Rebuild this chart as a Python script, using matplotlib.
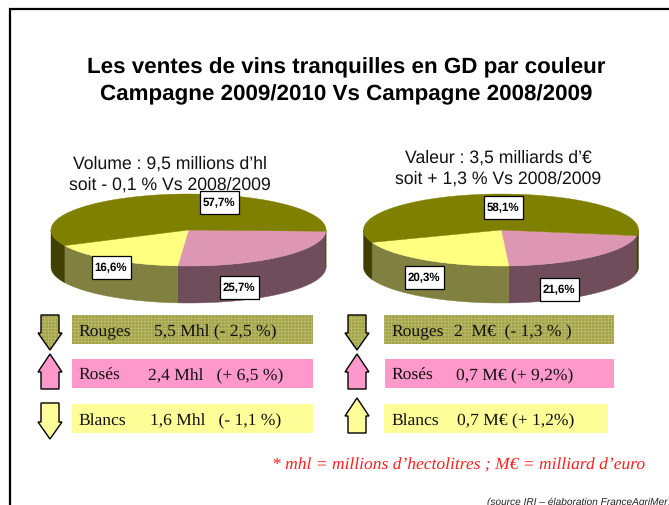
"""Ventes de vins tranquilles en GD: two pseudo 3D pies with coloured summary bars."""

import numpy as np
import matplotlib
matplotlib.use("Agg")
import matplotlib.pyplot as plt
from matplotlib.patches import Polygon, Rectangle

# slice order: roses, blancs, rouges (clockwise from the right)
volume_shares = [25.7, 16.6, 57.7]
valeur_shares = [21.6, 20.3, 58.1]

volume_title = ["Volume : 9,5 millions d\u2019hl", "soit - 0,1 % Vs 2008/2009"]
valeur_title = ["Valeur : 3,5 milliards d\u2019\u20ac", "soit + 1,3 % Vs 2008/2009"]

bar_names = ["Rouges", "Ros\u00e9s", "Blancs"]
volume_details = ["5,5 Mhl (- 2,5 %)", "2,4 Mhl   (+ 6,5 %)", "1,6 Mhl   (- 1,1 %)"]
valeur_details = ["2  M\u20ac  (- 1,3 % )", "0,7 M\u20ac (+ 9,2%)", "0,7 M\u20ac (+ 1,2%)"]
volume_trend = [-1, 1, -1]
valeur_trend = [-1, 1, 1]

TOP_COLORS = ["#DE97B2", "#FFFF80", "#808000"]
SIDE_COLORS = ["#6F4D5B", "#808040", "#404000"]
BAR_COLORS = ["#A3A348", "#FF99CC", "#FFFF99"]
SERIF = "Liberation Serif"
SANS = "Liberation Sans"

RX, RY, DEPTH = 137.5, 36, 37


def ellipse_points(cx, cy, start, end, dy=0):
    t = np.radians(np.linspace(start, end, 120))
    return np.column_stack([cx + RX * np.cos(t), cy + dy - RY * np.sin(t)])


def draw_pie(ax, cx, cy, shares, start_angle, label_pos):
    angles = start_angle - np.cumsum([0] + shares) * 3.6
    spans = list(zip(angles[:-1], angles[1:]))

    # front wall, only the lower half of the ellipse shows
    for (a0, a1), side in zip(spans, SIDE_COLORS):
        for lo, hi in [(a0, a1), (a0 + 360, a1 + 360)]:
            hi_c, lo_c = min(lo, 0), max(hi, -180)
            if hi_c <= lo_c:
                continue
            top = ellipse_points(cx, cy, hi_c, lo_c)
            bottom = ellipse_points(cx, cy, lo_c, hi_c, DEPTH)
            ax.add_patch(Polygon(np.vstack([top, bottom]), fc=side, ec=side, lw=0.3))

    for (a0, a1), color in zip(spans, TOP_COLORS):
        pts = np.vstack([[cx, cy], ellipse_points(cx, cy, a0, a1)])
        ax.add_patch(Polygon(pts, fc=color, ec=color, lw=0.3))

    for share, (x, y) in zip(shares, label_pos):
        ax.add_patch(Rectangle((x - 19.5, y - 11.5), 39, 23, fc="white", ec="black", lw=0.9, zorder=4))
        ax.text(x, y, f"{share:.1f}%".replace(".", ","), family=SANS, weight="bold",
                fontsize=8.3, ha="center", va="center", zorder=5)


def draw_arrow(ax, cx, y0, y1, trend, color, hatched):
    # y0/y1 top and bottom of the arrow
    head = 18 if trend > 0 else 17
    if trend < 0:
        pts = [(cx - 9, y0), (cx + 9, y0), (cx + 9, y1 - head), (cx + 12, y1 - head),
               (cx, y1), (cx - 12, y1 - head), (cx - 9, y1 - head)]
    else:
        pts = [(cx, y0), (cx + 12, y0 + head), (cx + 9, y0 + head), (cx + 9, y1),
               (cx - 9, y1), (cx - 9, y0 + head), (cx - 12, y0 + head)]
    if hatched:
        ax.add_patch(Polygon(pts, fc=color, ec="#BCBC70", hatch="+++++", lw=0))
    else:
        ax.add_patch(Polygon(pts, fc=color, lw=0))
    ax.add_patch(Polygon(pts, fc="none", ec="black", lw=1.0))


def draw_bar(ax, x0, x1, y0, color, hatched):
    if hatched:
        ax.add_patch(Rectangle((x0, y0), x1 - x0, 29, fc=color, ec="#BCBC70", hatch="+++++", lw=0))
    else:
        ax.add_patch(Rectangle((x0, y0), x1 - x0, 29, fc=color, lw=0))


plt.rcParams["hatch.linewidth"] = 0.5
plt.rcParams["text.hinting"] = "no_hinting"
plt.rcParams["text.hinting_factor"] = 8
fig = plt.figure(figsize=(6.69, 5.06), dpi=100)
ax = fig.add_axes([0, 0, 1, 1])
ax.set_xlim(0, 669)
ax.set_ylim(506, 0)
ax.axis("off")

# frame, open on the right and at the bottom
ax.plot([10, 10, 669], [506, 9.5, 9.5], color="black", lw=1.6, solid_joinstyle="miter")

for y, line in zip([68, 95], ["Les ventes de vins tranquilles en GD par couleur",
                              "Campagne 2009/2010 Vs Campagne 2008/2009"]):
    ax.text(346, y, line, family=SANS, weight="bold", fontsize=16.1, ha="center", va="center")

draw_pie(ax, 188.5, 231, volume_shares, -2, [(239, 288.5), (111, 268.5), (219, 203)])
draw_pie(ax, 501, 231, valeur_shares, -9, [(559, 290), (424, 278.5), (503, 208)])

for y, line in zip([164, 185], volume_title):
    ax.text(169.5, y, line, family=SANS, fontsize=12.7, ha="center", va="center", color="#111111")
for y, line in zip([158, 179], valeur_title):
    ax.text(498.5, y, line, family=SANS, fontsize=12.7, ha="center", va="center", color="#111111")

bar_tops = [316, 360, 405]
volume_arrows = [(316, 351), (355, 390), (404, 440)]
valeur_arrows = [(316, 351), (355, 390), (399, 434)]
volume_x = [154, 148, 150]
valeur_x = [454, 456, 457]
valeur_ends = [(384, 614), (385, 614), (384, 608)]

for i, name in enumerate(bar_names):
    hatched = i == 0
    draw_bar(ax, 72, 313, bar_tops[i], BAR_COLORS[i], hatched)
    draw_bar(ax, *valeur_ends[i], bar_tops[i], BAR_COLORS[i], hatched)
    draw_arrow(ax, 50, *volume_arrows[i], volume_trend[i], BAR_COLORS[i], hatched)
    draw_arrow(ax, 357, *valeur_arrows[i], valeur_trend[i], BAR_COLORS[i], hatched)

    # names sit a pixel low next to the bracketed text, nudge them up
    y = bar_tops[i] + 20.8
    ax.text(78.5, y - 1, name, family=SERIF, fontsize=12.6, va="baseline", color="#111111")
    ax.text(volume_x[i], y, volume_details[i], family=SERIF, fontsize=12.6, va="baseline", color="#111111")
    ax.text(391.5, y - 1, name, family=SERIF, fontsize=12.6, va="baseline", color="#111111")
    ax.text(valeur_x[i], y, valeur_details[i], family=SERIF, fontsize=12.6, va="baseline", color="#111111")

ax.text(645, 465, "* mhl = millions d\u2019hectolitres ; M\u20ac = milliard d\u2019euro", family=SERIF,
        style="italic", fontsize=12.6, color="#FF2020", ha="right", va="center")
ax.text(487, 502, "(source IRI \u2013 \u00e9laboration FranceAgriMer)", family=SANS, style="italic",
        fontsize=7.3, color="#222222", ha="left", va="center")

fig.savefig("out.png", dpi=100)
